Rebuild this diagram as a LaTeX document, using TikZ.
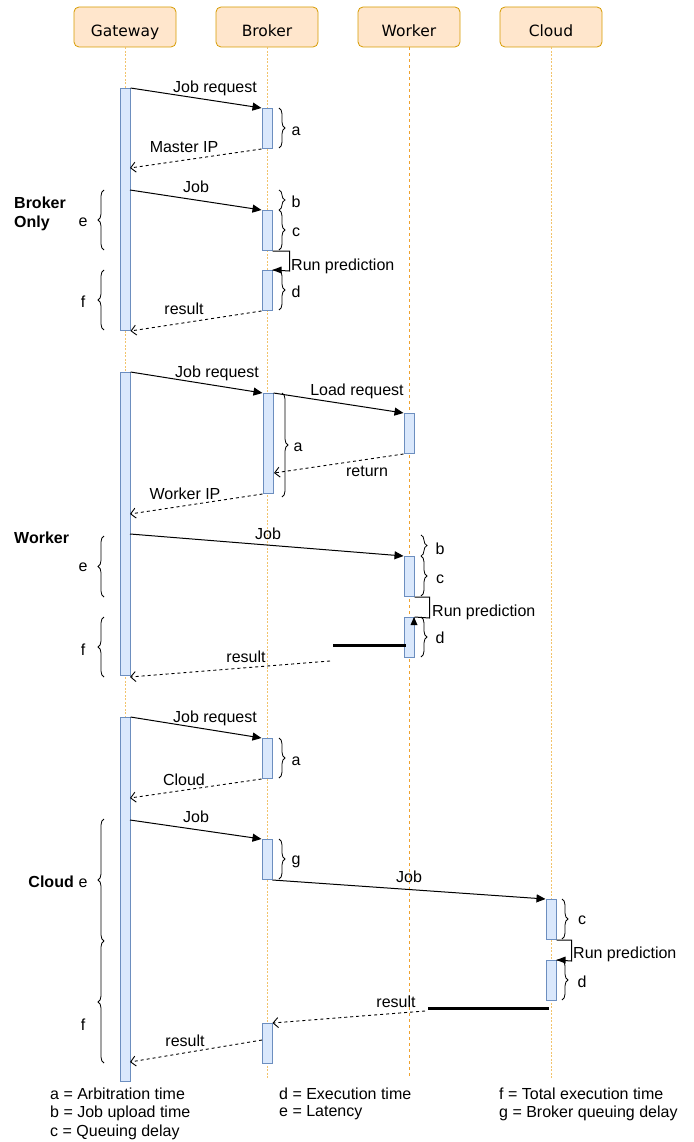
\documentclass[tikz,border=0pt]{standalone}
\usepackage{fontspec}
\setmainfont{Liberation Sans}
\newfontfamily\hdrfont{DejaVu Sans}
\usetikzlibrary{arrows.meta,decorations.pathreplacing,calc}
\definecolor{hfill}{HTML}{FFE6CC}
\definecolor{hline}{HTML}{D79B00}
\definecolor{bfill}{HTML}{DAE8FC}
\definecolor{bline}{HTML}{6C8EBF}
\definecolor{llight}{HTML}{F2C36B}
\definecolor{ldark}{HTML}{EFA22E}
\begin{document}
\begin{tikzpicture}[x=1pt,y=-1pt,
  hdr/.style={draw=hline, fill=hfill, rounded corners=5pt, minimum width=102pt, minimum height=40pt,
    font=\hdrfont\fontsize{15.5}{18}\selectfont, inner sep=0, line width=0.8pt, text height=20pt, text depth=0pt},
  bar/.style={draw=bline, fill=bfill, minimum width=10pt, inner sep=0, line width=1pt, anchor=north},
  life/.style={draw=llight, line width=0.9pt, dash pattern=on 2pt off 1.5pt},
  lifew/.style={draw=ldark, line width=1pt, dash pattern=on 3pt off 3pt},
  msg/.style={draw=black, line width=1pt, -{Triangle[length=9pt,width=8pt]}},
  selfm/.style={draw=black, line width=1pt},
  ret/.style={draw=black, line width=0.9pt, dash pattern=on 3pt off 3pt, -{Straight Barb[length=5pt,width=10pt]}},
  txt/.style={font=\fontsize{16}{18}\selectfont, inner sep=0},
  bold/.style={font=\bfseries\fontsize{16}{19}\selectfont, inner sep=0, align=left},
  brc/.style={draw=black, line width=0.8pt, decorate, decoration={brace, amplitude=6pt}},
  thick3/.style={draw=black, line width=3pt},
]
\useasboundingbox (0,0) rectangle (693,1142);

% headers
\node[hdr] (hG) at (125,27) {Gateway};
\node[hdr] (hB) at (267,27) {Broker};
\node[hdr] (hW) at (409,27) {Worker};
\node[hdr] (hC) at (551,27) {Cloud};

% lifelines
\coordinate (eG) at (125,1078);
\coordinate (eB) at (267,1078);
\coordinate (eW) at (409,1078);
\coordinate (eC) at (551,1078);
\draw[life] (hG.south) -- (eG);
\draw[life] (hB.south) -- (eB);
\draw[lifew] (hW.south) -- (eW);
\draw[life] (hC.south) -- (eC);

% ================= Section 1: Broker only =================
\node[bar, minimum height=242pt] (g1) at (125,88) {};
\node[bar, minimum height=40pt] (b1) at (267,108) {};
\node[bar, minimum height=40pt] (b2) at (267,210) {};
\node[bar, minimum height=40pt] (b3) at (267,270) {};

\coordinate (g1m) at (130,168);
\coordinate (g1j) at (130,190);
\draw[msg] (g1.north east) -- (b1.north west);
\draw[ret] (b1.south west) -- (g1m);
\draw[msg] (g1j) -- (b2.north west);
\draw[selfm] (b2.south east) -- ++(17,0) -- ++(0,20) -- (b3.north east);
\fill (b3.north east) -- ++(9,-3.5) -- ++(0,7) -- cycle;
\draw[ret] (b3.south west) -- (g1.south east);

\node[txt] (t11) at (215,88) {Job request};
\node[txt] (t12) at (184,147) {Master IP};
\node[txt] (t13) at (196,187) {Job};
\node[txt, anchor=west] (t14) at (291,266) {Run prediction};
\node[txt] (t15) at (184,309) {result};

\draw[brc] (279,108) -- (279,148);
\draw[brc] (279,190) -- (279,210);
\draw[brc] (279,210) -- (279,250);
\draw[brc] (279,270) -- (279,310);
\node[txt] (la1) at (296,131) {a};
\node[txt] (lb1) at (296,202) {b};
\node[txt] (lc1) at (296,232) {c};
\node[txt] (ld1) at (296,292) {d};

\draw[brc] (104,250) -- (104,190);
\draw[brc] (104,330) -- (104,270);
\node[txt] (le1) at (83,222) {e};
\node[txt] (lf1) at (83,302) {f};
\node[bold, anchor=west] (s1) at (14,214) {Broker\\Only};

% ================= Section 2: Worker =================
\node[bar, minimum height=303pt] (g2) at (125,372) {};
\node[bar, minimum height=100pt] (b4) at (268,393) {};
\node[bar, minimum height=40pt] (w1) at (409,413) {};
\node[bar, minimum height=40pt] (w2) at (409,556) {};
\node[bar, minimum height=40pt] (w3) at (409,617) {};

\coordinate (b4r) at (274,473);
\coordinate (g2w) at (130,514);
\coordinate (g2j) at (130,534);
\coordinate (w3l) at (406,645);
\coordinate (r2s) at (333,645);
\coordinate (r2a) at (330,661);
\coordinate (g2r) at (130,677);
\draw[msg] (g2.north east) -- (b4.north west);
\draw[msg] (b4.north east) -- (w1.north west);
\draw[ret] (w1.south west) -- (b4r);
\draw[ret] (b4.south west) -- (g2w);
\draw[msg] (g2j) -- (w2.north west);
\draw[selfm] (w2.south east) -- ++(15,0) -- ++(0,21) -- (w3.north east);
\fill ($(w3.north east)+(-4,8)$) -- ++(7,0) -- ++(-3.5,-8) -- cycle;
\draw[thick3] (r2s) -- (w3l);
\draw[ret] (r2a) -- (g2r);

\node[txt] (t21) at (217,373) {Job request};
\node[txt] (t22) at (357,391) {Load request};
\node[txt] (t23) at (367,471) {return};
\node[txt] (t24) at (185,494) {Worker IP};
\node[txt] (t25) at (268,534) {Job};
\node[txt, anchor=west] (t26) at (432,612) {Run prediction};
\node[txt] (t27) at (246,657) {result};

\draw[brc] (282,393) -- (282,497);
\draw[brc] (421,535) -- (421,556);
\draw[brc] (421,556) -- (421,596);
\draw[brc] (421,617) -- (421,657);
\node[txt] (la2) at (298,447) {a};
\node[txt] (lb2) at (440,549) {b};
\node[txt] (lc2) at (440,579) {c};
\node[txt] (ld2) at (440,638) {d};

\draw[brc] (104,597) -- (104,536);
\draw[brc] (104,677) -- (104,617);
\node[txt] (le2) at (83,567) {e};
\node[txt] (lf2) at (83,650) {f};
\node[bold, anchor=west] (s2) at (14,538) {Worker};

% ================= Section 3: Cloud =================
\node[bar, minimum height=364pt] (g3) at (125,717) {};
\node[bar, minimum height=40pt] (b5) at (267,738) {};
\node[bar, minimum height=40pt] (b6) at (267,839) {};
\node[bar, minimum height=40pt] (c1) at (551,899) {};
\node[bar, minimum height=40pt] (c2) at (551,960) {};
\node[bar, minimum height=40pt] (b7) at (267,1023) {};

\coordinate (g3c) at (130,798);
\coordinate (g3j) at (130,820);
\coordinate (c2l) at (549,1008);
\coordinate (r3s) at (428,1008);
\coordinate (r3a) at (425,1011);
\coordinate (b7l) at (262,1040);
\coordinate (g3r) at (130,1062);
\draw[msg] (g3.north east) -- (b5.north west);
\draw[ret] (b5.south west) -- (g3c);
\draw[msg] (g3j) -- (b6.north west);
\draw[msg] (b6.south east) -- (c1.north west);
\draw[selfm] (c1.south east) -- ++(15,0) -- ++(0,21) -- (c2.north east);
\fill (c2.north east) -- ++(9,-3.5) -- ++(0,7) -- cycle;
\draw[thick3] (r3s) -- (c2l);
\draw[ret] (r3a) -- (b7.north east);
\draw[ret] (b7l) -- (g3r);

\node[txt] (t31) at (215,718) {Job request};
\node[txt] (t32) at (184,780) {Cloud};
\node[txt] (t33) at (196,817) {Job};
\node[txt] (t34) at (409,877) {Job};
\node[txt, anchor=west] (t35) at (573,954) {Run prediction};
\node[txt] (t36) at (396,1002) {result};
\node[txt] (t37) at (185,1041) {result};

\draw[brc] (279,738) -- (279,778);
\draw[brc] (279,839) -- (279,879);
\draw[brc] (562,899) -- (562,939);
\draw[brc] (562,960) -- (562,1000);
\node[txt] (la3) at (296,761) {a};
\node[txt] (lg3) at (296,862) {g};
\node[txt] (lc3) at (582,920) {c};
\node[txt] (ld3) at (582,982) {d};

\draw[brc] (104,941) -- (104,819);
\draw[brc] (104,1063) -- (104,941);
\node[txt] (le3) at (83,883) {e};
\node[txt] (lf3) at (83,1025) {f};
\node[bold, anchor=east] (s3) at (74,882) {Cloud};

% ================= Legend =================
\node[txt, anchor=west] (k1) at (50,1094) {a = Arbitration time};
\node[txt, anchor=west] (k2) at (50,1113) {b = Job upload time};
\node[txt, anchor=west] (k3) at (50,1132) {c = Queuing delay};
\node[txt, anchor=west] (k4) at (279,1094) {d = Execution time};
\node[txt, anchor=west] (k5) at (279,1113) {e = Latency};
\node[txt, anchor=west] (k6) at (499,1094) {f = Total execution time};
\node[txt, anchor=west] (k7) at (499,1113) {g = Broker queuing delay};
\end{tikzpicture}
\end{document}
